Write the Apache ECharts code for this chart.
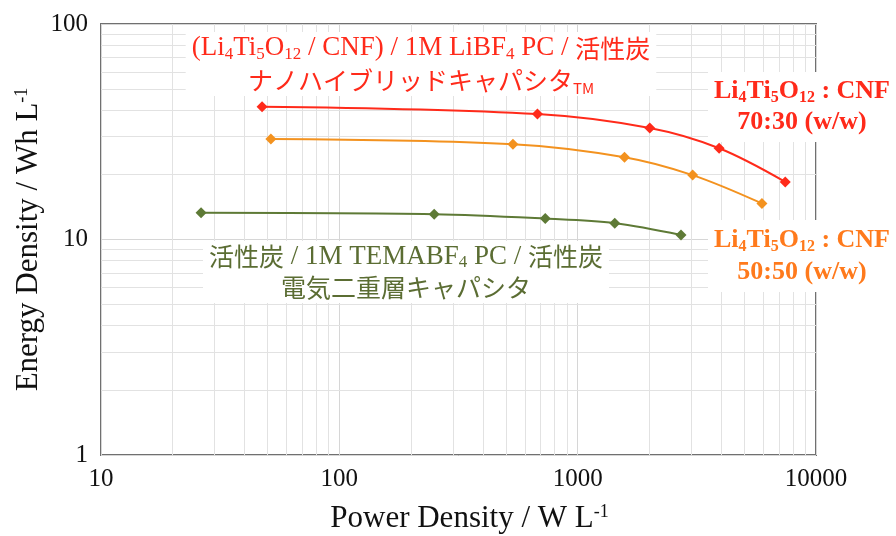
<!DOCTYPE html>
<html><head><meta charset="utf-8">
<script src="https://cdn.jsdelivr.net/npm/echarts@6/dist/echarts.min.js"></script>
<style>html,body{margin:0;padding:0;background:#fff}#c{width:896px;height:536px}</style>
</head><body><div id="c"></div>
<script>
// Data (power density W/L, energy density Wh/L)
const lto7030X = [47.4, 678, 2007, 3922, 7428];
const lto7030Y = [41.3, 38.2, 32.9, 26.5, 18.5];
const lto5050X = [51.6, 535, 1572, 3036, 5930];
const lto5050Y = [29.3, 27.7, 24.1, 19.9, 14.7];
const edlcX = [26.3, 250, 731, 1431, 2714];
const edlcY = [13.3, 13.1, 12.5, 11.9, 10.5];
const xTicks = [10, 100, 1000, 10000];
const yTicks = [1, 10, 100];
const minorX = [20,30,40,50,60,70,80,90,200,300,400,500,600,700,800,900,2000,3000,4000,5000,6000,7000,8000,9000];
const minorY = [2,3,4,5,6,7,8,9,20,30,40,50,60,70,80,90];

const serif = "'Liberation Serif','Times New Roman','Noto Sans CJK JP',serif";
const cjk = "'Noto Sans CJK JP','Liberation Serif',sans-serif";
const RED = '#ff2a1a', ORANGE = '#f3921f', ORANGE_T = '#ff7a1c', GREEN = '#5e7a36', GREEN_T = '#5b6d33';

const zip = (xs, ys) => xs.map((x, i) => [x, ys[i]]);

function richSet(color, size, cjkSize, bold, lh) {
  const w = bold ? 'bold' : 'normal';
  return {
    a: {fill: color, fontSize: size, fontFamily: serif, fontWeight: w, lineHeight: lh},
    s: {fill: color, fontSize: Math.round(size * 0.62), fontFamily: serif, fontWeight: w, verticalAlign: 'bottom', lineHeight: 12, padding: [0, 0, 1, 0]},
    k: {fill: color, fontSize: cjkSize, fontFamily: cjk, lineHeight: lh},
    t: {fill: color, fontSize: Math.round(cjkSize * 0.6), fontFamily: cjk, verticalAlign: 'bottom', lineHeight: 12}
  };
}

const chart = echarts.init(document.getElementById('c'), null, {renderer: 'canvas'});
const seriesBase = (name, xs, ys, color) => ({
  name, type: 'line', data: zip(xs, ys), smooth: 0.35,
  symbol: 'diamond', symbolSize: 11,
  lineStyle: {color, width: 2}, itemStyle: {color},
  z: 5, emphasis: {disabled: true}, animation: false
});

chart.setOption({
  animation: false,
  grid: {left: 101, right: 80, top: 24, bottom: 81, containLabel: false, outerBoundsMode: 'none',
         show: true, borderColor: '#707070', borderWidth: 2, backgroundColor: 'transparent'},
  xAxis: {
    type: 'log', logBase: 10, min: xTicks[0], max: xTicks[xTicks.length - 1],
    axisLine: {show: false}, axisTick: {show: false},
    splitLine: {show: true, lineStyle: {color: '#d6d6d6', width: 1}},
    axisLabel: {color: '#111', fontFamily: serif, fontSize: 25, margin: 12, formatter: v => String(Math.round(v))},
    name: '{a|Power Density / W L}{p|-1}', nameLocation: 'middle', nameGap: 48, nameMoveOverlap: false,
    nameTextStyle: {padding: [0, 0, 0, 22], rich: {
      a: {fontFamily: serif, fontSize: 31, color: '#111'},
      p: {fontFamily: serif, fontSize: 18, color: '#111', verticalAlign: 'top', lineHeight: 14}
    }}
  },
  yAxis: {
    type: 'log', logBase: 10, min: yTicks[0], max: yTicks[yTicks.length - 1],
    axisLine: {show: false}, axisTick: {show: false},
    splitLine: {show: true, lineStyle: {color: '#d6d6d6', width: 1}},
    axisLabel: {color: '#111', fontFamily: serif, fontSize: 25, margin: 13, formatter: v => String(Math.round(v))},
    name: '{a|Energy Density / Wh L}{p|-1}', nameLocation: 'middle', nameGap: 57, nameRotate: 90, nameMoveOverlap: false,
    nameTextStyle: {rich: {
      a: {fontFamily: serif, fontSize: 31, color: '#111'},
      p: {fontFamily: serif, fontSize: 18, color: '#111', verticalAlign: 'top', lineHeight: 14}
    }}
  },
  series: [
    {
      name: 'minor-grid', type: 'line', data: [], silent: true, z: 1,
      markLine: {
        silent: true, symbol: ['none', 'none'], label: {show: false}, animation: false,
        lineStyle: {color: '#e2e2e2', width: 1, type: 'solid'},
        emphasis: {disabled: true},
        data: minorX.map(v => ({xAxis: v})).concat(minorY.map(v => ({yAxis: v})))
      }
    },
    seriesBase('LTO:CNF 70:30', lto7030X, lto7030Y, RED),
    seriesBase('LTO:CNF 50:50', lto5050X, lto5050Y, ORANGE),
    seriesBase('EDLC', edlcX, edlcY, GREEN)
  ],
  graphic: [
    {type: 'text', x: 421, y: 64, z: 10, style: {
      text: '{a|(Li}{s|4}{a|Ti}{s|5}{a|O}{s|12}{a| / CNF) / 1M LiBF}{s|4}{a| PC / }{k|活性炭}\n{k|ナノハイブリッドキャパシタ}{t|TM}',
      align: 'center', verticalAlign: 'middle', backgroundColor: '#fff', padding: [0, 6],
      rich: richSet(RED, 27, 25, false, 32)
    }},
    {type: 'text', x: 802, y: 107, z: 10, style: {
      text: '{a|Li}{s|4}{a|Ti}{s|5}{a|O}{s|12}{a| : CNF}\n{a|70:30 (w/w)}',
      align: 'center', verticalAlign: 'middle', backgroundColor: '#fff', padding: [4, 6],
      rich: richSet(RED, 26, 26, true, 31)
    }},
    {type: 'text', x: 802, y: 256, z: 10, style: {
      text: '{a|Li}{s|4}{a|Ti}{s|5}{a|O}{s|12}{a| : CNF}\n{a|50:50 (w/w)}',
      align: 'center', verticalAlign: 'middle', backgroundColor: '#fff', padding: [4, 6],
      rich: richSet(ORANGE_T, 26, 26, true, 32)
    }},
    {type: 'text', x: 406, y: 272, z: 10, style: {
      text: '{k|活性炭}{a| / 1M TEMABF}{s|4}{a| PC / }{k|活性炭}\n{k|電気二重層キャパシタ}',
      align: 'center', verticalAlign: 'middle', backgroundColor: '#fff', padding: [0, 6],
      rich: richSet(GREEN_T, 27, 25, false, 31)
    }}
  ]
});
</script>
</body></html>
